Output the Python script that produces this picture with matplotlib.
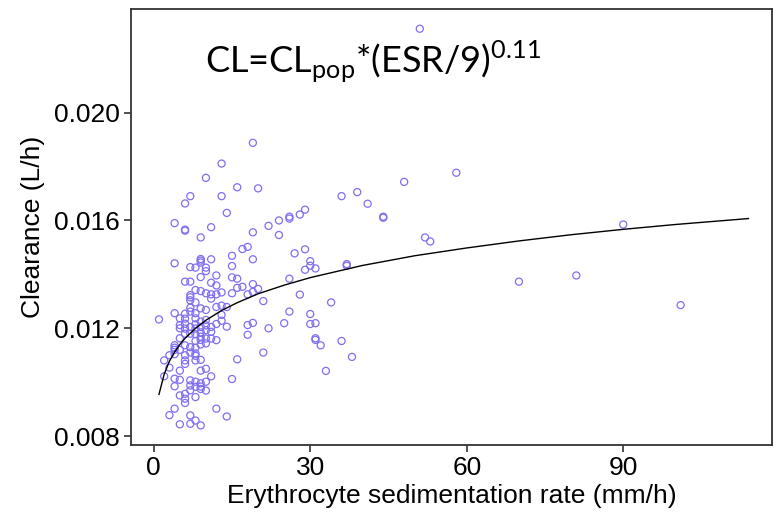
import matplotlib

matplotlib.use("Agg")
import matplotlib.pyplot as plt

# observed clearance by ESR (mm/h), one list per ESR value
esr_obs = {
    1: [0.01233],
    2: [0.01081, 0.01022],
    3: [0.01054, 0.0110, 0.00878],
    4: [0.0159, 0.01441, 0.01256, 0.01128, 0.0112, 0.01104, 0.01137, 0.01013, 0.00985, 0.00902],
    5: [0.01237, 0.01212, 0.012, 0.01163, 0.0112, 0.01043, 0.01009, 0.00951, 0.00844],
    6: [0.01663, 0.01566, 0.01562, 0.01373, 0.01254, 0.01236, 0.01217, 0.01199, 0.0118,
        0.01137, 0.011, 0.01081, 0.01068, 0.00957, 0.00939, 0.00923],
    7: [0.0169, 0.01427, 0.01373, 0.01323, 0.01315, 0.01304, 0.01276, 0.01262, 0.01205,
        0.0118, 0.0113, 0.0111, 0.01007, 0.00988, 0.0097, 0.00877, 0.00846],
    8: [0.01425, 0.01342, 0.01296, 0.01256, 0.01237, 0.01215, 0.01199, 0.01178, 0.01153,
        0.01128, 0.01107, 0.01098, 0.01081, 0.01002, 0.00983, 0.00945, 0.00858],
    9: [0.01537, 0.01457, 0.01451, 0.01444, 0.0139, 0.01338, 0.01274, 0.01225, 0.01205,
        0.01185, 0.01169, 0.01157, 0.0114, 0.01083, 0.01043, 0.00996, 0.00984, 0.00975, 0.0084],
    10: [0.01758, 0.01425, 0.01412, 0.0133, 0.01268, 0.01231, 0.01211, 0.01193, 0.01162,
         0.01144, 0.0105, 0.01002, 0.00969],
    11: [0.01575, 0.01456, 0.01369, 0.01326, 0.0131, 0.01205, 0.01187, 0.01162, 0.01022],
    12: [0.01396, 0.01359, 0.01326, 0.01279, 0.01216, 0.01156, 0.00902],
    13: [0.01811, 0.0169, 0.01333, 0.01284, 0.0125, 0.01228],
    14: [0.01628, 0.01279, 0.01206, 0.00873],
    15: [0.01469, 0.01431, 0.01389, 0.0133, 0.01012],
    16: [0.01723, 0.01384, 0.0135, 0.01085],
    17: [0.01494, 0.01354],
    18: [0.01502, 0.01326, 0.01212, 0.01176],
    19: [0.01888, 0.01556, 0.01456, 0.01364, 0.01335, 0.0122],
    20: [0.01719, 0.01346],
    21: [0.01301, 0.0111],
    22: [0.0158, 0.012],
    24: [0.016, 0.01546],
    25: [0.01219],
    26: [0.01614, 0.01607, 0.01384, 0.01262],
    27: [0.01478],
    28: [0.01622, 0.01325],
    29: [0.0164, 0.01493, 0.01417],
    30: [0.01449, 0.01432, 0.01253, 0.01216],
    31: [0.01422, 0.01219, 0.01163, 0.01157],
    32: [0.01137],
    33: [0.01042],
    34: [0.01296],
    36: [0.0169, 0.01153],
    37: [0.01438, 0.01432],
    38: [0.01094],
    39: [0.01705],
    41: [0.01662],
    44: [0.01614, 0.0161],
    48: [0.01743],
    51: [0.02311],
    52: [0.01537],
    53: [0.01522],
    58: [0.01777],
    70: [0.01373],
    81: [0.01396],
    90: [0.01585],
    101: [0.01286],
}

# fitted typical clearance curve
fit_esr = [1, 2, 3, 4, 5, 6, 8, 10, 13, 16, 20, 25, 30, 40, 50, 60, 70, 80, 90, 100, 114]
fit_cl = [0.00955, 0.0103, 0.01078, 0.01112, 0.0114, 0.01163, 0.012, 0.0123, 0.01266,
          0.01295, 0.01328, 0.0136, 0.01388, 0.01433, 0.01469, 0.01498, 0.01524,
          0.01547, 0.01567, 0.01585, 0.01607]

x_ticks = [0, 30, 60, 90]
y_ticks = [0.008, 0.012, 0.016, 0.020]

plt.rcParams["font.family"] = ["Liberation Sans", "DejaVu Sans"]

xs = [e for e, vals in esr_obs.items() for _ in vals]
ys = [v for vals in esr_obs.values() for v in vals]

fig = plt.figure(figsize=(7.74, 5.16), dpi=100)
ax = fig.add_axes([0.169, 0.138, 0.829, 0.845])

ax.scatter(xs, ys, s=26, facecolors="none", edgecolors="#7f6ff2", linewidths=0.9, zorder=2)
ax.plot(fit_esr, fit_cl, color="black", lw=1.0, zorder=3)

ax.set_xlim(-4.4, 118.6)
ax.set_ylim(0.00768, 0.02385)
ax.set_xticks(x_ticks)
ax.set_yticks(y_ticks)
ax.set_yticklabels([f"{t:.3f}" for t in y_ticks])
ax.tick_params(labelsize=19, length=5, width=1.2, color="#333333", pad=3)

for s in ax.spines.values():
    s.set_color("#333333")
    s.set_linewidth(1.3)

ax.set_xlabel("Erythrocyte sedimentation rate (mm/h)", fontsize=19, labelpad=3)
ax.set_ylabel("Clearance (L/h)", fontsize=19, labelpad=6)

ax.text(0.115, 0.855, r"CL=CL$_{\mathregular{pop}}$*(ESR/9)$^{\mathregular{0.11}}$",
        transform=ax.transAxes, fontsize=26, family=["Lato", "DejaVu Sans"],
        ha="left", va="baseline")

fig.savefig("out.png", dpi=100)
